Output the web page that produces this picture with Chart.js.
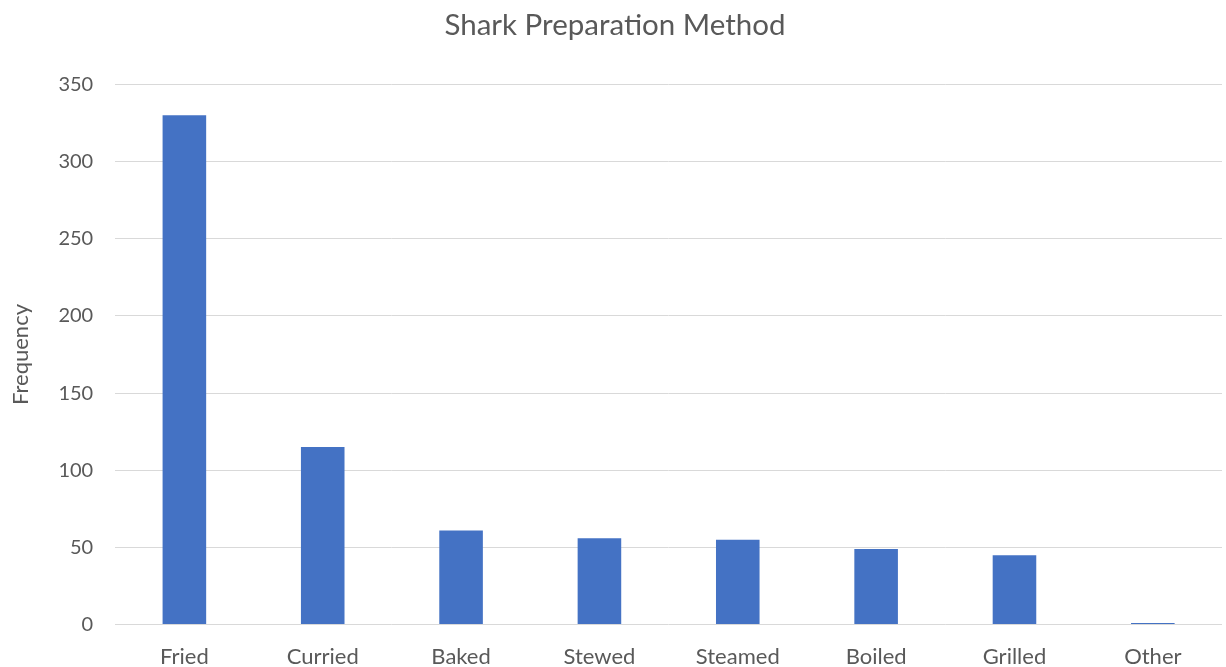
<!DOCTYPE html>
<html>
<head>
<meta charset="utf-8">
<script src="https://cdn.jsdelivr.net/npm/chart.js@4"></script>
<style>
  html, body { margin: 0; padding: 0; background: #ffffff; }
  #wrap { width: 1226px; height: 667px; position: relative; }
</style>
</head>
<body>
<div id="wrap"><canvas id="chart" width="1226" height="667"></canvas></div>
<script>
// Preparation methods and how often each was reported
const methods = ['Fried', 'Curried', 'Baked', 'Stewed', 'Steamed', 'Boiled', 'Grilled', 'Other'];
const frequency = [330, 115, 61, 56, 55, 49, 45, 1];
const yTicks = [0, 50, 100, 150, 200, 250, 300, 350];

const textColor = '#595959';
const gridColor = '#D9D9D9';
const fontFamily = 'Lato, "Open Sans", sans-serif';

new Chart(document.getElementById('chart'), {
  type: 'bar',
  data: {
    labels: methods,
    datasets: [{
      label: 'Frequency',
      data: frequency,
      backgroundColor: '#4472C4',
      borderWidth: 0,
      barPercentage: 0.315,
      categoryPercentage: 1.0
    }]
  },
  options: {
    responsive: false,
    animation: false,
    layout: { padding: { left: 8, right: 4, top: 0, bottom: -14 } },
    plugins: {
      legend: { display: false },
      tooltip: { enabled: false },
      title: {
        display: true,
        text: 'Shark Preparation Method',
        color: textColor,
        font: { family: fontFamily, size: 29.5, weight: 'normal' },
        padding: { top: 8, bottom: 41 }
      }
    },
    scales: {
      x: {
        grid: { display: false },
        border: { display: false },
        ticks: {
          color: textColor,
          font: { family: fontFamily, size: 22 },
          padding: 11,
          maxRotation: 0
        }
      },
      y: {
        min: 0,
        max: 350,
        afterBuildTicks: (axis) => { axis.ticks = yTicks.map(v => ({ value: v })); },
        grid: { color: gridColor, lineWidth: 1, drawTicks: false },
        border: { display: false },
        ticks: {
          color: textColor,
          font: { family: fontFamily, size: 20 },
          padding: 22
        },
        title: {
          display: true,
          text: 'Frequency',
          color: textColor,
          font: { family: fontFamily, size: 22, weight: 'normal' },
          padding: { top: 0, bottom: 2 }
        }
      }
    }
  }
});
</script>
</body>
</html>
